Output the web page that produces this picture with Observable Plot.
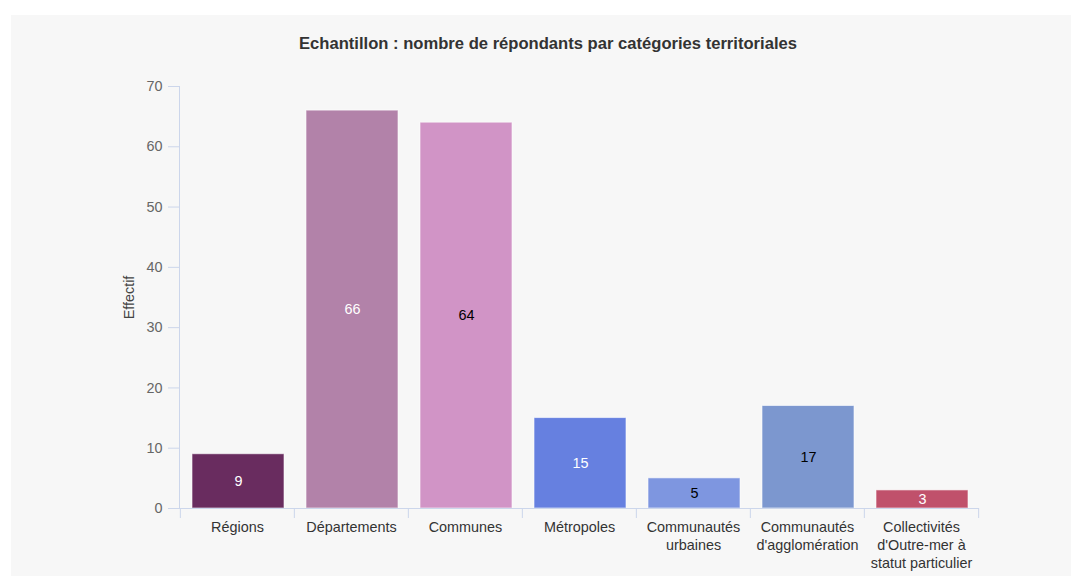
<!DOCTYPE html>
<html><head><meta charset="utf-8">
<script src="https://cdn.jsdelivr.net/npm/d3@7"></script>
<script src="https://cdn.jsdelivr.net/npm/@observablehq/plot@0.6"></script>
<style>
body{margin:0;background:#fff;font-family:"Liberation Sans",Arial,sans-serif;}
#panel{position:absolute;left:11px;top:15px;width:1060px;height:561px;background:#f7f7f7;overflow:hidden;}
#title{padding-top:20px;padding-left:14px;height:25px;line-height:18px;text-align:center;font-weight:bold;font-size:16.6px;color:#333;}
</style></head>
<body>
<div id="panel"><div id="title">Echantillon : nombre de répondants par catégories territoriales</div><div id="chart"></div></div>
<script>
const categories = ["Régions","Départements","Communes","Métropoles","Communautés urbaines","Communautés d'agglomération","Collectivités d'Outre-mer à statut particulier"];
const tickLabels = ["Régions","Départements","Communes","Métropoles","Communautés\nurbaines","Communautés\nd'agglomération","Collectivités\nd'Outre-mer à\nstatut particulier"];
const values = [9,66,64,15,5,17,3];
const barColors = ["#692c5f","#b282a9","#d194c6","#6680e0","#7e96e0","#7c97cf","#c0516b"];
const valueLabelColors = ["#fff","#fff","#000","#fff","#000","#000","#fff"];
const yTicks = [0,10,20,30,40,50,60,70];
const yLabel = "Effectif";

const data = categories.map((c,i)=>({cat:c, label:tickLabels[i], value:values[i], color:barColors[i], lc:valueLabelColors[i]}));

const W=1060,H=516,mT=26,mB=68,mL=168,mR=92;
const step=(W-mL-mR)/categories.length;
const tickLen=10*(yTicks[yTicks.length-1]-yTicks[0])/(H-mT-mB);
const axisColor="#ccd6eb";
const fs=14.4;

const chart = Plot.plot({
  width:W,height:H,marginTop:mT,marginBottom:mB,marginLeft:mL,marginRight:mR,
  style:{background:"transparent",fontFamily:"'Liberation Sans',Arial,sans-serif",fontSize:fs+"px",overflow:"visible"},
  x:{domain:categories,paddingInner:0.19,paddingOuter:0.095,axis:null},
  y:{domain:[0,70],axis:null},
  marks:[
    Plot.barY(data,{x:"cat",y:"value",fill:"color",dx:1,stroke:"#ffffff",strokeOpacity:0.6,strokeWidth:1}),
    Plot.frame({anchor:"left",stroke:axisColor}),
    Plot.ruleY([0],{stroke:axisColor}),
    Plot.axisY({ticks:yTicks,tickSize:11,tickPadding:6,stroke:axisColor,fill:"#666",fontSize:fs,label:null}),
    Plot.ruleX(categories,{x:d=>d,dx:-step/2,y1:0,y2:-tickLen,stroke:axisColor}),
    Plot.ruleX(categories.slice(-1),{x:d=>d,dx:step/2,y1:0,y2:-tickLen,stroke:axisColor}),
    Plot.text(data,{x:"cat",y:0,text:"label",lineAnchor:"top",dy:11,lineHeight:1.25,fill:"#333",fontSize:fs}),
    Plot.text(data,{x:"cat",y:d=>d.value/2,text:d=>String(d.value),dx:1,fill:"lc",fontSize:fs}),
    Plot.text([yLabel],{frameAnchor:"left",rotate:-90,dx:-50,textAnchor:"middle",fill:"#444",fontSize:fs})
  ]
});
document.getElementById("chart").appendChild(chart);
</script>
</body></html>
